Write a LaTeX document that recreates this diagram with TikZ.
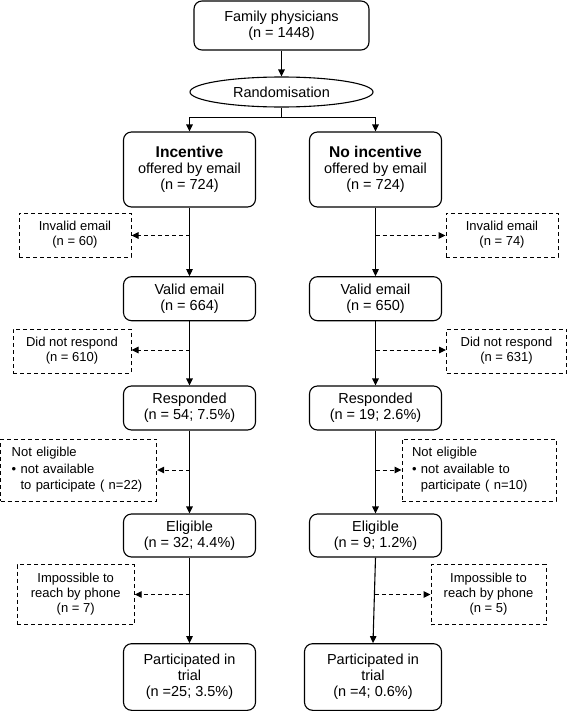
\documentclass[tikz,border=0pt]{standalone}
\usepackage{fontspec}
\setmainfont{Liberation Sans}
\usetikzlibrary{arrows.meta,shapes.geometric}

\begin{document}
\begin{tikzpicture}[x=1pt,y=-1pt,
    box/.style={draw, line width=1.1pt, rounded corners=8pt, align=center, inner sep=2pt,
        minimum width=132pt, minimum height=44pt, font=\fontsize{14.5}{16}\selectfont},
    oval/.style={draw, ellipse, line width=1.1pt, inner sep=1pt, font=\fontsize{14.5}{16}\selectfont},
    side/.style={draw, line width=1pt, dash pattern=on 4pt off 3pt, align=center, inner sep=2pt,
        font=\fontsize{13}{15}\selectfont},
    note/.style={side, align=left, text width=134pt, inner xsep=11pt, minimum height=62pt,
        font=\fontsize{13}{16.5}\selectfont},
    flow/.style={line width=1.1pt, -{Triangle[length=7pt,width=6.5pt]}},
    drop/.style={flow, line width=1pt, dash pattern=on 4pt off 3pt}]
    \useasboundingbox (0,0) rectangle (568,712);

    \node[box, minimum width=175pt, minimum height=49pt] (fam) at (281.5,25.5) {Family physicians\\(n = 1448)};
    \node[oval, minimum width=183pt, minimum height=30pt] (rand) at (281.5,92) {Randomisation};
    \coordinate (split) at (281.5,117.5);

    % left arm
    \node[box, minimum height=75pt] (inc) at (189.5,169.5) {{\fontsize{15.6}{17}\selectfont\bfseries Incentive}\\offered by email\\(n = 724)};
    \node[box] (validL) at (189.5,298.7) {Valid email\\(n = 664)};
    \node[box] (respL) at (189.5,408) {Responded\\(n = 54; 7.5\%)};
    \node[box, minimum height=43pt] (eligL) at (189.5,535.5) {Eligible\\(n = 32; 4.4\%)};
    \node[box, minimum height=66.6pt] (partL) at (189.5,677) {Participated in\\trial\\(n =25; 3.5\%)};

    \node[side, minimum width=112pt, minimum height=44pt] (invL) at (75,235) {Invalid email\\(n = 60)};
    \node[side, minimum width=118pt, minimum height=44pt] (noresL) at (72,351) {Did not respond\\(n = 610)};
    \node[note] (noelL) at (78.7,470) {Not eligible\\\textbullet\ not available\\\hphantom{\textbullet\ }to participate ( n=22)};
    \node[side, minimum width=117pt, minimum height=60pt] (impL) at (75.7,594.5) {Impossible to\\reach by phone\\(n = 7)};

    % right arm
    \node[box, minimum height=75pt] (noinc) at (375.5,169.5) {{\fontsize{15.6}{17}\selectfont\bfseries No incentive}\\offered by email\\(n = 724)};
    \node[box] (validR) at (375.5,298.7) {Valid email\\(n = 650)};
    \node[box] (respR) at (375.5,408) {Responded\\(n = 19; 2.6\%)};
    \node[box, minimum height=43pt] (eligR) at (375.5,535.5) {Eligible\\(n = 9; 1.2\%)};
    \node[box, minimum width=137pt, minimum height=66.6pt] (partR) at (373,677) {Participated in\\trial\\(n =4; 0.6\%)};

    \node[side, minimum width=112pt, minimum height=44pt] (invR) at (502,235) {Invalid email\\(n = 74)};
    \node[side, minimum width=120pt, minimum height=44pt] (noresR) at (506.5,351) {Did not respond\\(n = 631)};
    \node[note, inner xsep=10pt] (noelR) at (479,470) {Not eligible\\\textbullet\ not available to\\\hphantom{\textbullet\ }participate ( n=10)};
    \node[side, minimum width=115pt, minimum height=60pt] (impR) at (488.5,594.5) {Impossible to\\reach by phone\\(n = 5)};

    \draw[flow] (fam) -- (rand);
    \draw[line width=1.1pt] (rand) -- (split);
    \draw[flow] (split) -| (inc.north);
    \draw[flow] (split) -| (noinc.north);

    \draw[flow] (inc) -- (validL);
    \draw[flow] (validL) -- (respL);
    \draw[flow] (respL) -- (eligL);
    \draw[flow] (eligL) -- (partL);
    \draw[flow] (noinc) -- (validR);
    \draw[flow] (validR) -- (respR);
    \draw[flow] (respR) -- (eligR);
    \draw[flow] (eligR.south) -- (partR.north);

    % drop-outs
    \coordinate (d1) at (189.5,235.5);
    \coordinate (d2) at (189.5,350);
    \coordinate (d3) at (189.5,470);
    \coordinate (d4) at (189.5,594.5);
    \coordinate (e1) at (375.5,235.5);
    \coordinate (e2) at (375.5,350);
    \coordinate (e3) at (375.5,470);
    \coordinate (e4) at (374.8,594.5);
    \draw[drop] (d1) -- (d1 -| invL.east);
    \draw[drop] (d2) -- (d2 -| noresL.east);
    \draw[drop] (d3) -- (d3 -| noelL.east);
    \draw[drop] (d4) -- (d4 -| impL.east);
    \draw[drop] (e1) -- (e1 -| invR.west);
    \draw[drop] (e2) -- (e2 -| noresR.west);
    \draw[drop] (e3) -- (e3 -| noelR.west);
    \draw[drop] (e4) -- (e4 -| impR.west);
\end{tikzpicture}
\end{document}
